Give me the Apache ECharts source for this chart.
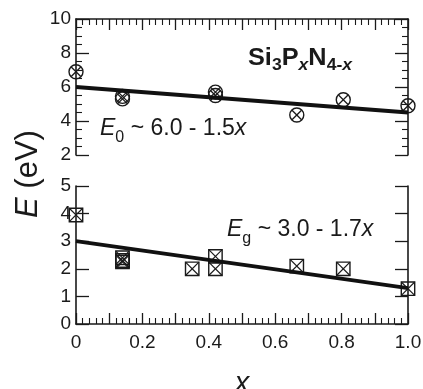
<!DOCTYPE html>
<html><head><meta charset="utf-8">
<script src="https://cdn.jsdelivr.net/npm/echarts@6/dist/echarts.min.js"></script>
<style>html,body{margin:0;padding:0;background:#fff}#c{width:423px;height:389px}</style>
</head><body><div id="c"></div>
<script>
// ---- data ----
const xE0 = [0, 0.14, 0.14, 0.42, 0.42, 0.665, 0.805, 1.0];
const E0 = [6.9, 5.45, 5.3, 5.7, 5.5, 4.35, 5.25, 4.9];
const xEg = [0, 0.14, 0.14, 0.14, 0.35, 0.42, 0.42, 0.665, 0.805, 1.0];
const Eg = [3.95, 2.4, 2.3, 2.25, 2.0, 2.45, 2.0, 2.1, 2.0, 1.28];
const fitX = [0, 1.0];
const fitE0 = [6.0, 4.5];
const fitEg = [3.0, 1.3];
const xTicks = ['0', '', '0.2', '', '0.4', '', '0.6', '', '0.8', '', '1.0'];

const ink = '#1a1a1a';
const font = 'Liberation Sans, Arial, Helvetica, sans-serif';
const chart = echarts.init(document.getElementById('c'), null, {renderer: 'canvas'});

function circleX(params, api) {
  const p = api.coord([api.value(0), api.value(1)]);
  const r = 7, d = r * 0.68;
  const st = {stroke: ink, lineWidth: 1.3, fill: null};
  return {type: 'group', children: [
    {type: 'circle', shape: {cx: p[0], cy: p[1], r: r}, style: {stroke: ink, lineWidth: 1.4, fill: 'rgba(0,0,0,0)'}},
    {type: 'line', shape: {x1: p[0]-d, y1: p[1]-d, x2: p[0]+d, y2: p[1]+d}, style: st},
    {type: 'line', shape: {x1: p[0]-d, y1: p[1]+d, x2: p[0]+d, y2: p[1]-d}, style: st}
  ]};
}
function squareX(params, api) {
  const p = api.coord([api.value(0), api.value(1)]);
  const h = 6.7;
  const st = {stroke: ink, lineWidth: 1.2, fill: null};
  return {type: 'group', children: [
    {type: 'rect', shape: {x: p[0]-h, y: p[1]-h, width: 2*h, height: 2*h}, style: {stroke: ink, lineWidth: 1.4, fill: 'rgba(0,0,0,0)'}},
    {type: 'line', shape: {x1: p[0]-h, y1: p[1]-h, x2: p[0]+h, y2: p[1]+h}, style: st},
    {type: 'line', shape: {x1: p[0]-h, y1: p[1]+h, x2: p[0]+h, y2: p[1]-h}, style: st}
  ]};
}

const axLine = {show: true, lineStyle: {color: ink, width: 1.6}};
function xAx(gi, pos, labels) {
  return {
    type: 'value', gridIndex: gi, position: pos, min: 0, max: 1, interval: 0.1,
    axisLine: axLine,
    axisTick: {show: true, inside: true, length: 11, lineStyle: {color: ink, width: 1.3}},
    minorTick: {show: true, splitNumber: 5, length: 6, lineStyle: {color: ink, width: 1.1}},
    splitLine: {show: false},
    axisLabel: labels ? {show: true, color: ink, fontSize: 19, fontFamily: font, margin: 9,
      showMinLabel: true, showMaxLabel: true,
      formatter: v => xTicks[Math.round(v / 0.1)]} : {show: false},
    name: labels ? 'x' : '', nameLocation: 'middle', nameGap: 45,
    nameTextStyle: {fontSize: 29, fontStyle: 'italic', color: ink, fontFamily: font}
  };
}
function yAx(gi, pos, min, max, interval, minor, labels) {
  return {
    type: 'value', gridIndex: gi, position: pos, min: min, max: max, interval: interval,
    axisLine: axLine,
    axisTick: {show: true, inside: true, length: 13, lineStyle: {color: ink, width: 1.3}},
    minorTick: {show: minor, splitNumber: 4, length: 6, lineStyle: {color: ink, width: 1.1}},
    splitLine: {show: false},
    axisLabel: labels ? {show: true, color: ink, fontSize: 19, fontFamily: font, margin: 5} : {show: false}
  };
}

const eqRich = {
  i: {fontSize: 23, fontStyle: 'italic', fontFamily: font, fill: ink, lineHeight: 24, verticalAlign: 'top'},
  n: {fontSize: 23, fontFamily: font, fill: ink, lineHeight: 24, verticalAlign: 'top'},
  s: {fontSize: 16, fontFamily: font, fill: ink, verticalAlign: 'top', padding: [13, 0, 0, 0]}
};

chart.setOption({
  animation: false,
  grid: [
    {left: 76, top: 19, width: 332, height: 136, outerBoundsMode: 'none', containLabel: false},
    {left: 76, top: 186, width: 332, height: 138, outerBoundsMode: 'none', containLabel: false}
  ],
  xAxis: [xAx(0, 'top', false), xAx(1, 'bottom', true)],
  yAxis: [
    yAx(0, 'left', 2, 10, 2, true, true),
    yAx(0, 'right', 2, 10, 2, true, false),
    yAx(1, 'left', 0, 5, 1, false, true),
    yAx(1, 'right', 0, 5, 1, false, false)
  ],
  series: [
    {type: 'line', xAxisIndex: 0, yAxisIndex: 0, data: fitX.map((x, i) => [x, fitE0[i]]),
      symbol: 'none', lineStyle: {color: '#111', width: 3.8}},
    {type: 'line', xAxisIndex: 1, yAxisIndex: 2, data: fitX.map((x, i) => [x, fitEg[i]]),
      symbol: 'none', lineStyle: {color: '#111', width: 3.8}},
    {type: 'custom', xAxisIndex: 0, yAxisIndex: 0, renderItem: circleX, clip: false,
      data: xE0.map((x, i) => [x, E0[i]])},
    {type: 'custom', xAxisIndex: 1, yAxisIndex: 2, renderItem: squareX, clip: false,
      data: xEg.map((x, i) => [x, Eg[i]])}
  ],
  graphic: [
    {type: 'text', x: 248, y: 47, scaleX: 1.1, style: {
      text: '{b|Si}{s|3}{b|P}{si|x}{b|N}{s|4-}{si|x}',
      rich: {
        b: {fontSize: 23, fontWeight: 'bold', fontFamily: font, fill: ink, lineHeight: 24, verticalAlign: 'top'},
        s: {fontSize: 16, fontWeight: 'bold', fontFamily: font, fill: ink, verticalAlign: 'top', padding: [11, 0, 0, 0]},
        si: {fontSize: 16, fontWeight: 'bold', fontStyle: 'italic', fontFamily: font, fill: ink, verticalAlign: 'top', padding: [11, 0, 0, 0]}
      }}},
    {type: 'text', x: 100, y: 117, style: {text: '{i|E}{s|0}{n| ~ 6.0 - 1.5}{i|x}', rich: eqRich}},
    {type: 'text', x: 227, y: 218, style: {text: '{i|E}{s|g}{n| ~ 3.0 - 1.7}{i|x}', rich: eqRich}},
    {type: 'text', x: 28, y: 174, rotation: Math.PI / 2, style: {
      text: '{i|E}{n| (eV)}', align: 'center', verticalAlign: 'middle',
      rich: {
        i: {fontSize: 31, fontStyle: 'italic', fontFamily: font, fill: ink},
        n: {fontSize: 31, fontFamily: font, fill: ink}
      }}}
  ]
});
</script></body></html>
